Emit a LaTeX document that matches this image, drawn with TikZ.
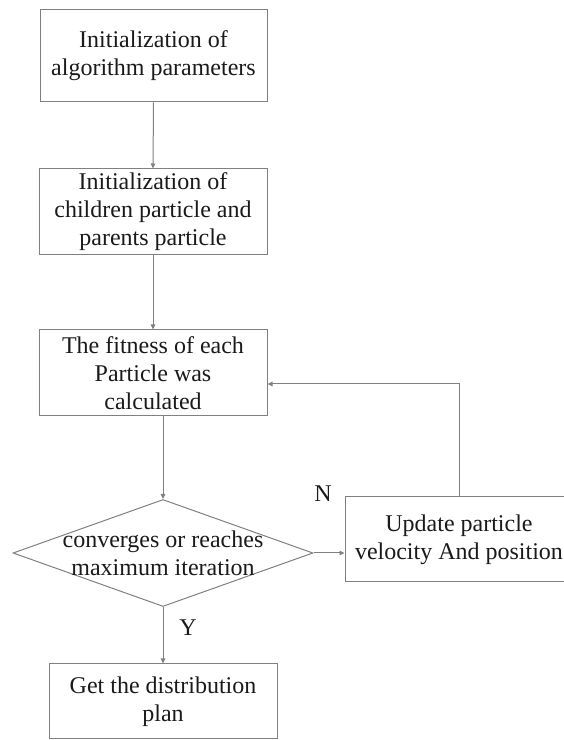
\documentclass[tikz,border=0pt]{standalone}
\usepackage{fontspec}
\setmainfont{Liberation Serif}
\usetikzlibrary{shapes.geometric,arrows.meta}
\definecolor{linegray}{HTML}{808080}
\definecolor{inkblack}{HTML}{1A1A1A}

\begin{document}
\begin{tikzpicture}[x=1pt,y=1pt,
	flowbox/.style={draw=linegray, line width=1pt, align=center, inner sep=0pt,
		minimum width=228pt, minimum height=86pt, text=inkblack,
		font=\fontsize{24}{28}\selectfont},
	decision/.style={draw=linegray, line width=1pt, shape=diamond, inner sep=0pt,
		minimum width=300pt, minimum height=107pt},
	flowtext/.style={align=center, inner sep=0pt, text=inkblack,
		font=\fontsize{24}{28}\selectfont},
	flowarrow/.style={draw=linegray, line width=1pt, -{Triangle[length=5pt,width=4.5pt]}}]
	\clip (0,0) rectangle (564,740);
	
	% main column
	\node[flowbox, minimum width=227pt, minimum height=92pt] (init) at (153.5,684) {Initialization of\\algorithm parameters};
	\node[flowbox] (child) at (153,528) {Initialization of\\children particle and\\parents particle};
	\node[flowbox] (fit) at (153,367) {The fitness of each\\Particle was\\calculated};
	\node[decision] (dec) at (163,187) {};
	\node[flowtext] (dectext) at (dec.center) {converges or reaches\\maximum iteration};
	\node[flowbox, minimum height=75pt] (plan) at (163,38.5) {Get the distribution\\plan};
	
	% loop back
	\node[flowbox, minimum height=85pt] (update) at (459,200.5) {Update particle\\velocity And position};
	\coordinate (turn) at (459,356);
	
	\draw[flowarrow] (init.south) -- (child.north);
	\draw[flowarrow] (child.south) -- (fit.north);
	\draw[flowarrow] (fit.south -| dec.north) -- (dec.north);
	\draw[flowarrow] (dec.east) -- (update.west |- dec.east);
	\draw[flowarrow] (dec.south) -- (plan.north);
	\draw[flowarrow] (update.north) -- (turn) -- (fit.east |- turn);
	
	\node[flowtext] (nolabel) at (323,246) {N};
	\node[flowtext] (yeslabel) at (188,112) {Y};
\end{tikzpicture}
\end{document}
